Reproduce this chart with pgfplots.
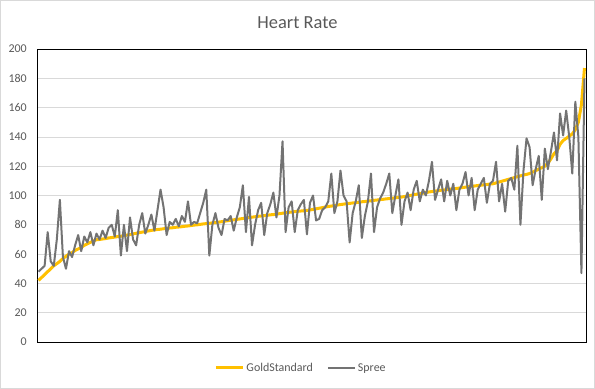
\documentclass[border=0pt]{standalone}
\usepackage{pgfplots}
\pgfplotsset{compat=1.18}
\usepackage{pgfplotstable}
\usepackage{fontspec}
\setmainfont{Carlito}
\definecolor{gold}{HTML}{FFC000}
\definecolor{spree}{HTML}{737373}
\definecolor{txt}{HTML}{595959}
\definecolor{gridc}{HTML}{D9D9D9}

\pgfplotstableread{
i g s
1 42 48
2 44 50
3 46 52
4 48 75
5 50 55
6 52 52
7 53.5 70
8 55 97
9 57 58
10 58.5 50
11 60 62
12 61 58
13 62.5 66
14 63.5 73
15 64.5 62
16 66 72
17 67 68
18 68 75
19 69 66
20 69.8 74
21 70 70
22 70.3 76
23 70.6 71
24 71 78
25 71.3 80
26 71.6 72
27 72 90
28 72.2 59
29 72.6 80
30 73 62
31 73.4 85
32 73.8 70
33 74.2 66
34 74.6 80
35 75 88
36 75.4 74
37 75.8 80
38 76.2 87
39 76.5 76
40 76.8 90
41 77 104
42 77.3 92
43 77.5 73
44 77.8 82
45 78 80
46 78.3 84
47 78.5 79
48 78.7 86
49 79 82
50 79.2 96
51 79.5 80
52 79.8 82
53 80 81
54 80.3 88
55 80.6 95
56 80.8 104
57 81 59
58 81.3 80
59 81.5 88
60 81.8 78
61 82.1 73
62 82.4 84
63 82.8 83
64 83.1 86
65 83.4 76
66 83.7 85
67 84 92
68 84.3 107
69 84.6 75
70 85 99
71 85.2 66
72 85.5 80
73 85.8 90
74 86 95
75 86.3 73
76 86.5 88
77 86.8 94
78 87 102
79 87.3 85
80 87.6 100
81 87.9 137
82 88.2 75
83 88.5 92
84 88.7 96
85 89 75
86 89.2 90
87 89.4 94
88 89.6 97
89 89.8 73.5
90 90.1 95
91 90.5 100
92 90.9 83
93 91.3 84
94 91.7 90
95 92.1 92
96 92.5 96
97 92.8 115
98 93.1 88
99 93.5 96
100 93.8 117
101 94.1 100
102 94.4 96
103 94.6 68
104 94.9 88
105 95.1 96
106 95.4 107
107 95.7 71
108 95.9 86
109 96.2 96
110 96.4 115
111 96.7 75
112 96.9 92
113 97.2 98
114 97.4 102
115 97.7 108
116 97.9 115
117 98.2 88
118 98.4 100
119 98.7 111
120 98.9 80
121 99.3 96
122 99.7 102
123 100.1 90
124 100.5 104
125 100.9 110
126 101.2 96
127 101.6 104
128 102 100
129 102.4 110
130 102.7 123
131 103 97
132 103.3 104
133 103.6 111
134 103.8 96
135 104.1 110
136 104.3 100
137 104.6 108
138 104.8 90
139 105.1 104
140 105.4 108
141 105.7 116
142 106 100
143 106.2 112
144 106.5 90
145 106.8 104
146 107 108
147 107.3 112
148 107.5 95
149 107.8 108
150 108 110
151 108.6 123
152 109.2 96
153 109.8 108
154 110.4 89
155 111 110
156 111.6 112
157 112.2 104
158 112.8 134
159 113.4 80
160 114 117
161 114.4 139
162 115 133
163 116 107
164 117 118
165 118 127
166 119 97
167 120 132
168 122 118
169 125 130
170 128.5 143
171 130.5 124
172 135 156
173 137.5 141
174 139 158
175 140.5 140
176 142 115
177 145 164
178 150 140
179 162 47
180 187 180
}\data

\begin{document}
\begin{tikzpicture}
\useasboundingbox (0,0) rectangle (595bp,389bp);
\draw[gridc, line width=0.75bp] (0.375bp,0.375bp) rectangle (594.625bp,388.625bp);
\node[text=txt, font=\fontsize{18.5}{20}\selectfont] at (297.5bp,366bp) {Heart Rate};
\begin{axis}[
  at={(37bp,47bp)}, anchor=south west,
  scale only axis, width=549bp, height=293bp,
  xmin=0.5, xmax=180.5, ymin=0, ymax=200,
  ytick distance=20, xtick=\empty,
  ymajorgrids, grid style={gridc, line width=0.75bp},
  axis line style={black, line width=0.75bp},
  major tick length=0pt,
  /pgf/number format/assume math mode=true,
  yticklabel style={text=txt, font=\fontsize{12}{14}\selectfont, inner xsep=0pt, xshift=-10bp},
  legend columns=2,
  legend style={at={(0.481,-0.0887)}, anchor=center, draw=none, fill=none,
    font=\fontsize{12}{14}\selectfont, text=txt,
    /tikz/every even column/.append style={column sep=12bp}},
  legend image code/.code={\draw[#1] (0bp,0bp) -- (27bp,0bp);},
]
\addplot[gold, line width=3bp, line join=round] table[x=i, y=g] {\data};
\addlegendentry{GoldStandard}
\addplot[spree, line width=2bp, line join=round] table[x=i, y=s] {\data};
\addlegendentry{Spree}
\end{axis}
\end{tikzpicture}
\end{document}
